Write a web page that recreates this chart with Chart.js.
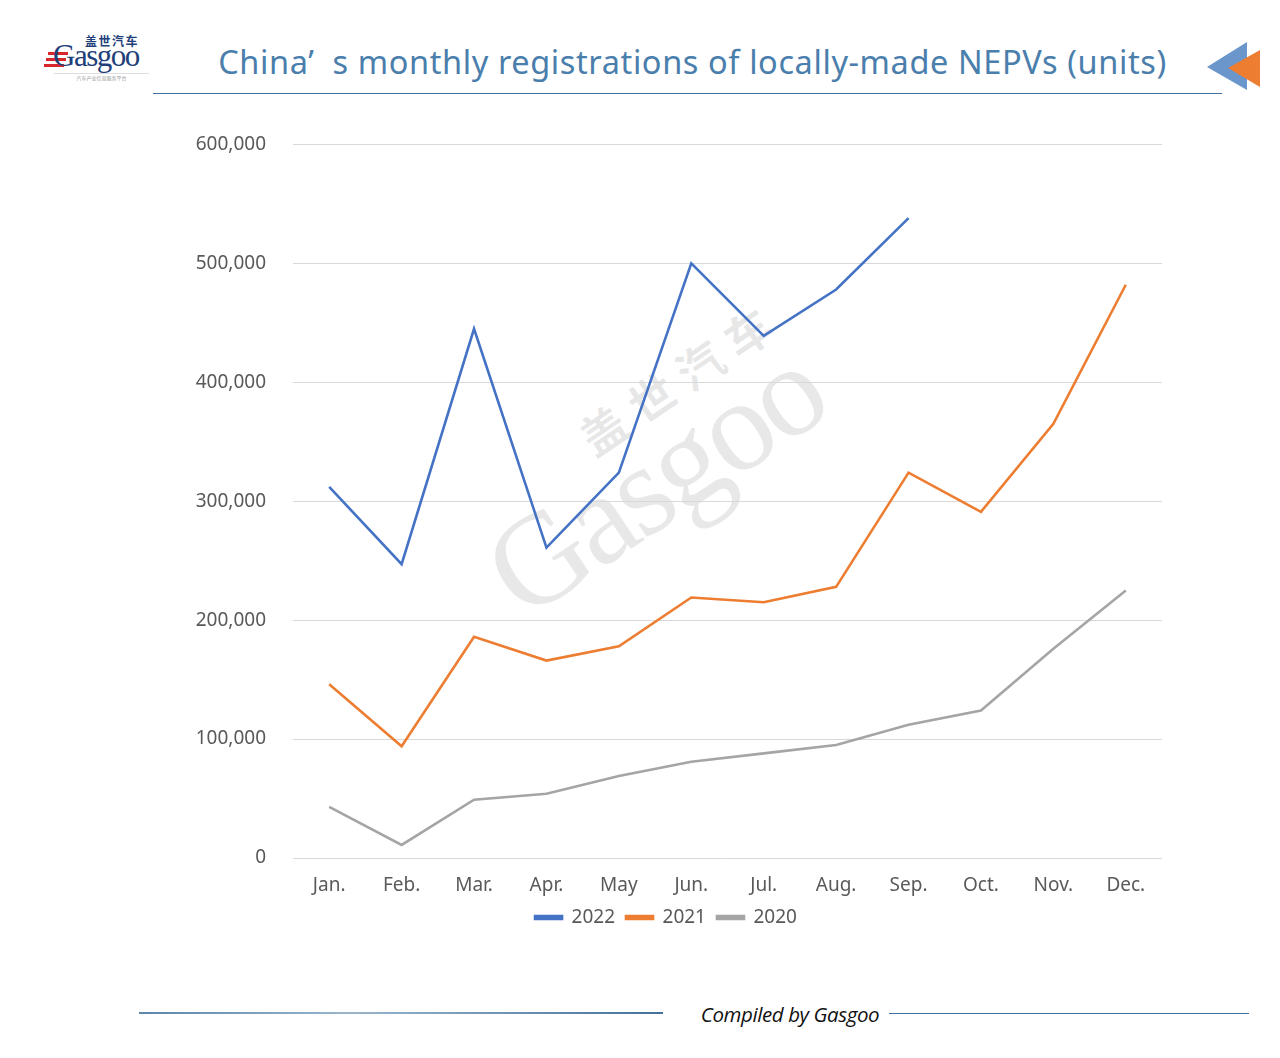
<!DOCTYPE html>
<html>
<head>
<meta charset="utf-8">
<script src="https://cdn.jsdelivr.net/npm/chart.js@4/dist/chart.umd.min.js"></script>
<style>
  body { margin: 0; background: #fff; font-family: "Noto Sans", sans-serif; }
  #page { position: relative; width: 1280px; height: 1058px; overflow: hidden; background: #fff; }
  #title { position: absolute; left: 150px; width: 1085px; top: 39px; text-align: center;
           font-size: 32.5px; color: #4a7eac; letter-spacing: 0.6px; white-space: nowrap; }
  #titleRule { position: absolute; left: 153px; width: 1069px; top: 93px; height: 1px; background: #41719c; }
  #logo { position: absolute; left: 44px; top: 32px; width: 110px; height: 45px; }
  #logo .cn { position: absolute; left: 41px; top: 0; font-size: 12px; font-weight: bold; color: #1f3f7a;
              font-family: "Noto Sans CJK SC"; letter-spacing: 1.5px; }
  #logo .en { position: absolute; left: 9px; top: 6px; font-size: 31px; color: #1f3f7a;
              font-family: "Liberation Serif", serif; letter-spacing: -1.5px; }
  #logo .stripe { position: absolute; height: 3px; background: #d8262d; }
  #logo .sub { position: absolute; left: 10px; top: 41px; width: 95px; border-top: 1px solid #ddd;
               font-size: 5px; color: #999; text-align: center; font-family: "Noto Sans CJK SC"; }
  #arrow { position: absolute; left: 1200px; top: 38px; }
  #watermark { position: absolute; left: 455px; top: 355px; width: 420px; height: 200px;
               transform: rotate(-34deg); color: rgba(0,0,0,0.09); z-index: 0; }
  #watermark .en { position: absolute; left: 0; top: 40px; font-size: 130px; font-family: "Liberation Serif", serif;
                   letter-spacing: -4px; }
  #watermark .cn { position: absolute; left: 150px; top: 10px; font-size: 46px; font-family: "Noto Sans CJK SC";
                   font-weight: bold; letter-spacing: 12px; }
  #chartBox { position: absolute; left: 170px; top: 106px; width: 1010px; height: 831px; z-index: 1; }
  #footLeft { position: absolute; left: 139px; width: 524px; top: 1012px; height: 2px;
              background: linear-gradient(to right, #5a86aa, #9ab6cc 40%, #6f93b3 70%, #41719c); }
  #footText { position: absolute; left: 680px; width: 220px; top: 1000px; text-align: center;
              font-size: 20.5px; font-style: italic; color: #111; font-family: "Open Sans", sans-serif; letter-spacing: -0.4px; }
  #footRight { position: absolute; left: 889px; width: 360px; top: 1013px; height: 1px; background: #41719c; }
</style>
</head>
<body>
<div id="page">
  <div id="logo">
    <div class="stripe" style="left:4px;top:20px;width:20px;"></div>
    <div class="stripe" style="left:2px;top:26px;width:20px;"></div>
    <div class="stripe" style="left:0px;top:32px;width:20px;"></div>
    <div class="cn">盖世汽车</div>
    <div class="en">Gasgoo</div>
    <div class="sub">汽车产业信息服务平台</div>
  </div>
  <div id="title">China’&nbsp;&nbsp;s monthly registrations of locally-made NEPVs (units)</div>
  <div id="titleRule"></div>
  <svg id="arrow" width="70" height="60">
    <polygon points="7,29 47,4 47,52" fill="#6a96cc"/>
    <polygon points="28,30 60,12 60,49" fill="#ed7d31"/>
  </svg>
  <div id="watermark"><div class="cn">盖世汽车</div><div class="en">Gasgoo</div></div>
  <div id="chartBox"><canvas id="chart"></canvas></div>
  <div id="footLeft"></div>
  <div id="footText">Compiled by Gasgoo</div>
  <div id="footRight"></div>
</div>
<script>
// Months on the x axis
var months = ["Jan.", "Feb.", "Mar.", "Apr.", "May", "Jun.", "Jul.", "Aug.", "Sep.", "Oct.", "Nov.", "Dec."];

// Registrations per month (units)
var units2022 = [312000, 247000, 445000, 261000, 324000, 500000, 439000, 478000, 538000, null, null, null];
var units2021 = [146000, 94000, 186000, 166000, 178000, 219000, 215000, 228000, 324000, 291000, 365000, 482000];
var units2020 = [43000, 11000, 49000, 54000, 69000, 81000, 88000, 95000, 112000, 124000, 176000, 225000];

var seriesNames = ["2022", "2021", "2020"];
var seriesColors = ["#4472c4", "#ed7d31", "#a5a5a5"];

var yMin = 0;
var yMax = 600000;
var yStep = 100000;

var tickColor = "#595959";
var gridColor = "#d9d9d9";
var fontFamily = "'Noto Sans', sans-serif";

function makeSet(i, values) {
    return {
        label: seriesNames[i],
        data: values,
        borderColor: seriesColors[i],
        backgroundColor: seriesColors[i],
        borderWidth: 2.6,
        pointRadius: 0,
        pointHoverRadius: 0,
        tension: 0,
        fill: false,
        spanGaps: false
    };
}

var ctx = document.getElementById('chart').getContext('2d');
var chart = new Chart(ctx, {
    type: 'line',
    data: {
        labels: months,
        datasets: [makeSet(0, units2022), makeSet(1, units2021), makeSet(2, units2020)]
    },
    options: {
        responsive: true,
        maintainAspectRatio: false,
        animation: false,
        layout: { padding: { top: 0, right: 18, bottom: 0, left: 0 } },
        plugins: {
            tooltip: { enabled: false },
            legend: {
                position: 'bottom',
                labels: {
                    boxWidth: 27,
                    boxHeight: 3,
                    padding: 11,
                    color: tickColor,
                    font: { family: fontFamily, size: 19 }
                }
            }
        },
        scales: {
            x: {
                offset: true,
                grid: { display: false, drawTicks: false },
                border: { display: false },
                afterFit: function(scale) { scale.height = 39; },
                ticks: {
                    color: tickColor,
                    padding: 16,
                    maxRotation: 0,
                    font: { family: fontFamily, size: 19 }
                }
            },
            y: {
                min: yMin,
                max: yMax,
                grid: { color: gridColor, lineWidth: 1, drawTicks: false },
                border: { display: false },
                afterFit: function(scale) { scale.width = 123; },
                ticks: {
                    stepSize: yStep,
                    color: tickColor,
                    padding: 27,
                    font: { family: fontFamily, size: 19 },
                    callback: function(v) { return v.toLocaleString('en-US'); }
                }
            }
        }
    }
});
</script>
</body>
</html>
